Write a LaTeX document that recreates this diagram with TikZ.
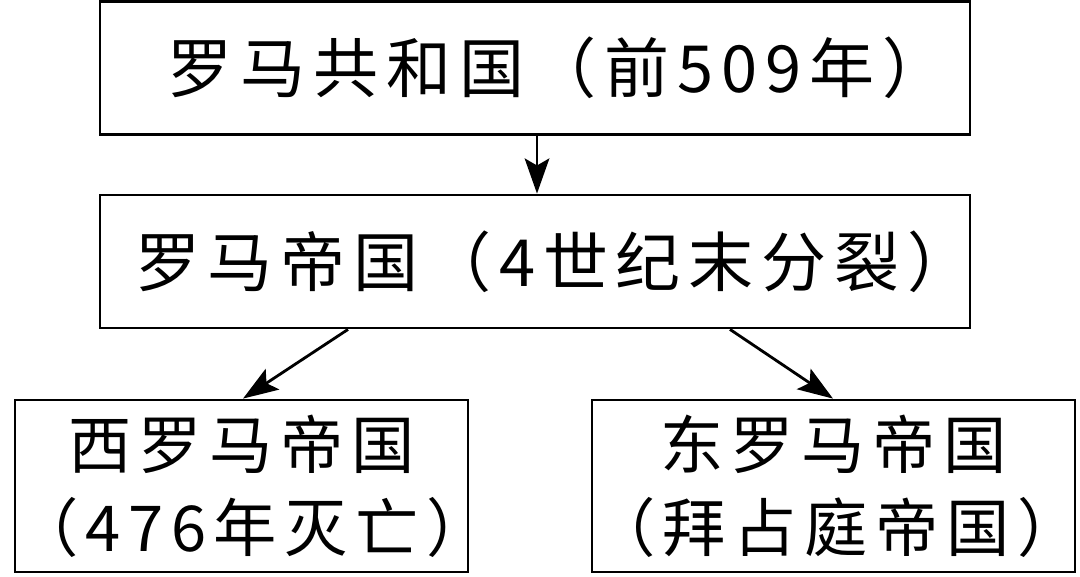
\documentclass[tikz,border=0pt]{standalone}
\usepackage{fontspec}
\setmainfont{Noto Sans CJK SC}[LetterSpace=12]
\usepackage{tikz}
\usetikzlibrary{
    arrows.meta,
    positioning
}

\tikzset{
    stage/.style={draw, line width=0.8pt, rectangle, align=center,
        font=\fontsize{18.5}{23.5}\selectfont, inner sep=0pt,
        text width=8.7cm, minimum height=1.33cm},
    branch/.style={draw, line width=0.8pt, rectangle, align=center,
        font=\fontsize{18}{23.5}\selectfont, inner sep=0pt,
        text width=#1, minimum height=1.72cm},
    split/.style={-{Stealth[length=10pt, width=7pt, inset=2pt]}, line width=0.8pt}
}

\begin{document}
\begin{tikzpicture}
                                            \useasboundingbox (0, 0) rectangle (10.8, 5.76);
                                            \node[stage] (rep) at (5.35, 5.08) {\hspace*{0.45cm}罗马共和国（前509年）};
                                            \node[stage] (emp) at (5.35, 3.145) {\hspace*{0.35cm}罗马帝国（4世纪末分裂）};
                                            \node[branch=4.53cm] (west) at (2.415, 0.9) {西罗马帝国\\（476年灭亡）};
                                            \node[branch=4.83cm] (east) at (8.335, 0.9) {东罗马帝国\\（拜占庭帝国）};
                                            \draw[split] (rep.south -| 5.37, 0) -- (emp.north -| 5.37, 0);
                                            \draw[split] (emp.south -| 3.48, 0) -- (west.north -| 2.43, 0);
                                            \draw[split] (emp.south -| 7.30, 0) -- (east.north -| 8.33, 0);
                                        \end{tikzpicture}
\end{document}
